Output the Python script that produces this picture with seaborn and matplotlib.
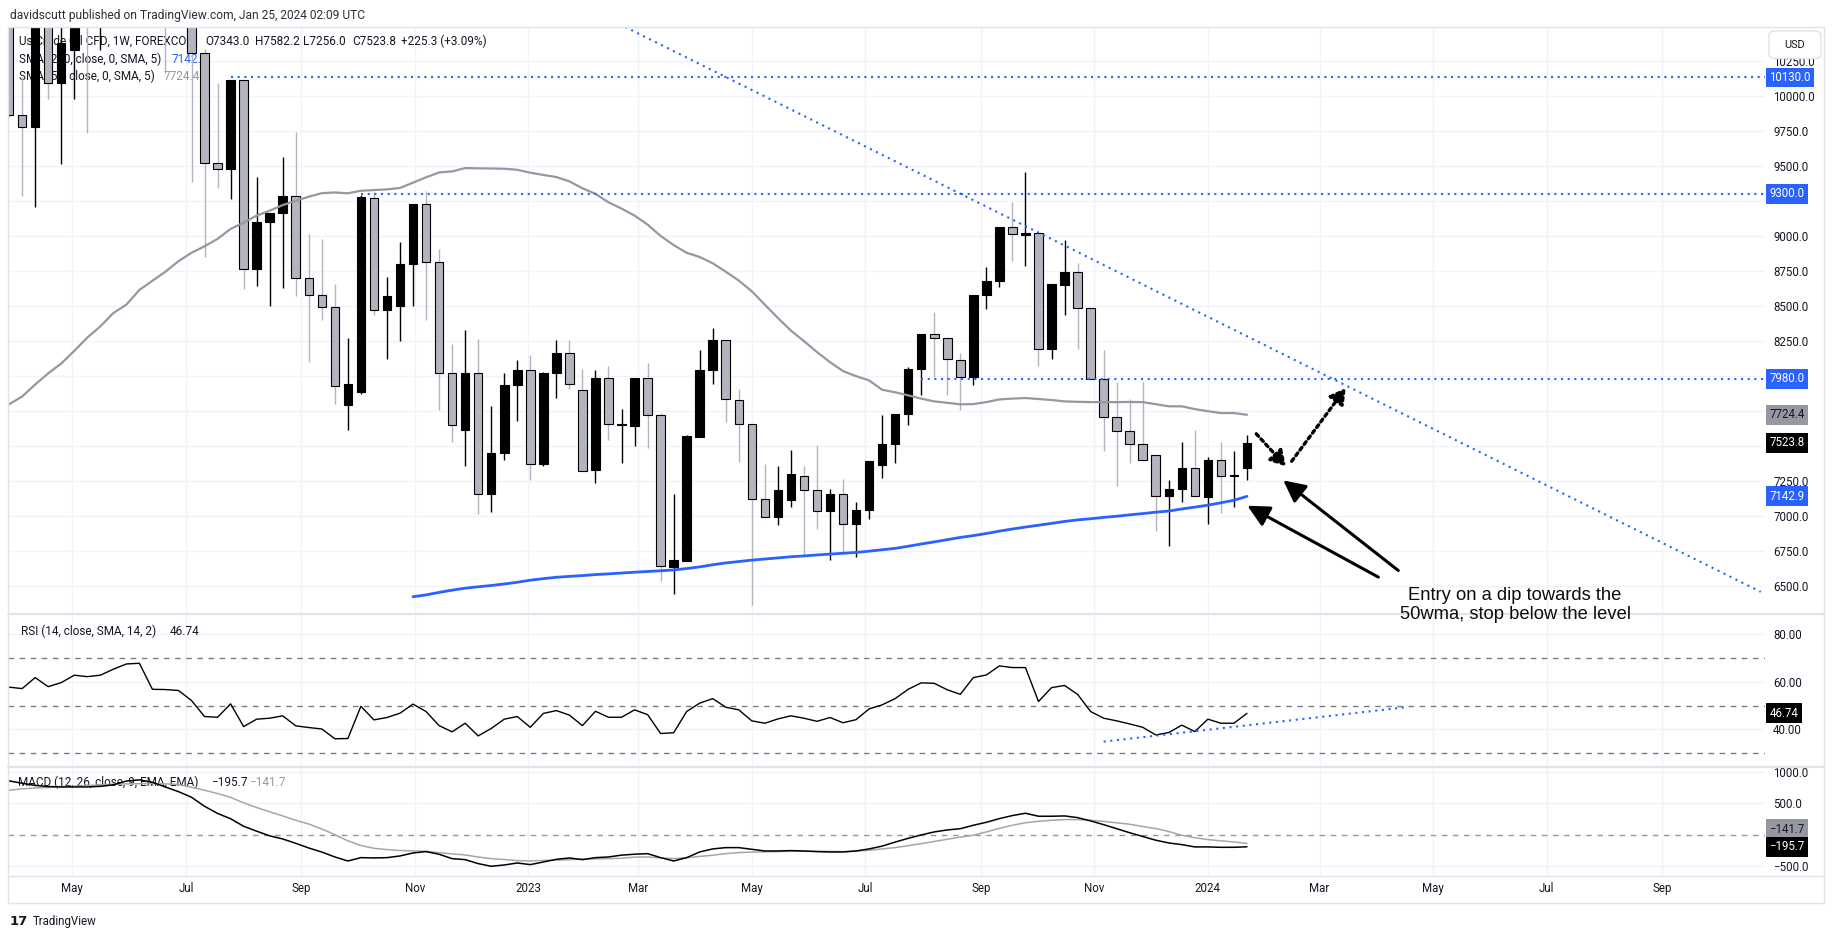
import numpy as np
import pandas as pd
import matplotlib
matplotlib.use("Agg")
import matplotlib.pyplot as plt
import matplotlib.dates as mdates
import matplotlib.ticker as mticker
import matplotlib.transforms as mtransforms
from matplotlib.lines import Line2D
from matplotlib.patches import FancyBboxPatch
import seaborn as sns

sns.set_theme(style="white")
plt.rcParams["font.family"] = ["Roboto", "DejaVu Sans"]
plt.rcParams["axes.unicode_minus"] = True

# ---------------------------------------------------------------- data
first_week = "2022-03-28"          # weekly candles (Mondays)

opens = [11200, 9862, 9774, 10650, 10089, 10327, 10800, 10600, 10900, 11300,
         11600, 11800, 10800, 10600, 10700, 10303, 9519, 9477, 10111, 8765,
         9102, 9164, 9287, 8703, 8580, 8492, 7797, 7887, 9271, 8473,
         8499, 8801, 9228, 8812, 8024, 7614, 8024, 7163, 7455, 7934,
         8046, 7372, 8022, 8167, 7903, 7334, 7989, 7650, 7645, 7989,
         7720, 6641, 6681, 7566, 8046, 8259, 7832, 7656, 7127, 6997,
         7115, 7286, 7191, 7039, 7163, 6944, 7044, 7369, 7519, 7728,
         8053, 8302, 8274, 8117, 7993, 8582, 8682, 9066, 9010, 9019,
         8195, 8651, 8741, 8487, 7982, 7709, 7609, 7519, 7440, 7144,
         7198, 7348, 7139, 7405, 7285, 7343.0]
highs = [11400, 10130, 10750, 10700, 10560, 11000, 11000, 11100, 11400, 11800,
         12000, 12000, 11000, 11100, 10900, 10330, 10094, 10111, 10111, 9422,
         9164, 9565, 9743, 9014, 8979, 8658, 8274, 9290, 9311, 8706,
         8955, 9228, 9323, 8907, 8231, 8331, 8267, 7785, 8022, 8112,
         8148, 8030, 8259, 8259, 8053, 8046, 8072, 7768, 7989, 8096,
         7740, 7163, 7578, 8183, 8345, 8259, 7910, 7656, 7376, 7357,
         7471, 7357, 7507, 7198, 7270, 7103, 7393, 7725, 7728, 8065,
         8302, 8456, 8274, 8167, 8582, 8777, 9066, 9240, 9458, 9019,
         8658, 8974, 8805, 8487, 8188, 7958, 7839, 7958, 7440, 7262,
         7531, 7618, 7424, 7531, 7464, 7582.2]
lows = [9850, 9287, 9204, 9980, 9512, 9980, 9731, 10324, 10600, 11000,
        11300, 10600, 10165, 10520, 9382, 8848, 9339, 9263, 8623, 8642,
        8499, 8627, 8575, 8100, 8397, 7803, 7614, 7870, 8433, 8122,
        8250, 8499, 8404, 7756, 7531, 7360, 7020, 7032, 7405, 7680,
        7258, 7360, 7846, 7910, 7324, 7239, 7542, 7383, 7502, 7488,
        6541, 6443, 6681, 7566, 7946, 7673, 7388, 6367, 6997, 6937,
        7068, 6716, 6913, 6688, 6735, 6712, 6978, 7277, 7381, 7649,
        7863, 7993, 7863, 7761, 7934, 8480, 8634, 8824, 8789, 8072,
        8119, 8437, 8195, 7982, 7467, 7217, 7383, 7400, 6897, 6792,
        7103, 7139, 6944, 7027, 7068, 7256.0]
closes = [9866, 9774, 10650, 10089, 10379, 10800, 10600, 10900, 11300, 11600,
          11800, 10800, 10600, 10700, 10308, 9519, 9477, 10111, 8765, 9102,
          9164, 9287, 8703, 8580, 8495, 7927, 7946, 9275, 8473, 8575,
          8801, 9228, 8812, 8024, 7649, 8024, 7163, 7455, 7934, 8046,
          7372, 8022, 8167, 7946, 7324, 7989, 7656, 7660, 7989, 7720,
          6645, 6688, 7571, 8046, 8259, 7834, 7656, 7127, 6997, 7186,
          7300, 7191, 7039, 7163, 6949, 7049, 7393, 7519, 7728, 8053,
          8302, 8274, 8119, 7993, 8582, 8682, 9066, 9014, 9019, 8195,
          8658, 8741, 8487, 7982, 7709, 7607, 7519, 7400, 7144, 7198,
          7348, 7144, 7405, 7286, 7298.5, 7523.8]

sma50 = [7799, 7855, 7940, 8020, 8090, 8180, 8275, 8355, 8450, 8510,
         8615, 8680, 8745, 8820, 8880, 8926, 8979, 9050, 9095, 9145,
         9180, 9220, 9250, 9280, 9305, 9310, 9304, 9322, 9327, 9332,
         9342, 9380, 9418, 9453, 9460, 9484, 9482, 9481, 9479, 9472,
         9451, 9435, 9420, 9389, 9340, 9300, 9240, 9195, 9145, 9081,
         9000, 8935, 8880, 8850, 8805, 8745, 8682, 8605, 8510, 8415,
         8325, 8250, 8172, 8100, 8036, 8000, 7970, 7903, 7885, 7863,
         7840, 7820, 7810, 7799, 7801, 7815, 7834, 7840, 7844, 7837,
         7830, 7820, 7817, 7815, 7815, 7815, 7816, 7815, 7800, 7785,
         7785, 7765, 7750, 7737, 7737, 7724.4]

sma200 = [6427, 6440, 6458, 6474, 6488, 6498, 6507, 6518, 6530,
          6545, 6556, 6566, 6572, 6578, 6585, 6590, 6596, 6602, 6607,
          6612, 6618, 6628, 6640, 6655, 6668, 6678, 6688, 6696, 6704,
          6712, 6718, 6725, 6731, 6737, 6743, 6752, 6762, 6772, 6787,
          6803, 6818, 6834, 6850, 6863, 6878, 6895, 6910, 6924, 6937,
          6950, 6964, 6975, 6983, 6993, 7001, 7011, 7020, 7030, 7038,
          7053, 7066, 7080, 7097, 7115, 7142.9]   # from 2022-10-31

rsi = [57.7, 57.1, 61.7, 57.9, 59.6, 62.7, 62.1, 62.7, 65.2, 67.4,
       67.7, 56.8, 56.7, 56.3, 52.1, 45.4, 45.1, 50.7, 41.2, 44.3,
       44.7, 45.7, 41.5, 40.8, 40.2, 36.1, 36.2, 49.7, 44.0, 45.0,
       46.8, 50.6, 47.5, 41.6, 39.0, 42.6, 37.3, 40.4, 44.3, 45.4,
       40.9, 46.7, 47.9, 46.0, 41.6, 47.6, 45.1, 45.1, 48.2, 46.2,
       38.3, 38.6, 47.5, 51.0, 52.9, 49.3, 48.2, 43.6, 42.6, 44.4,
       45.7, 44.7, 43.4, 45.0, 42.8, 44.1, 48.6, 50.3, 52.9, 56.8,
       59.5, 59.3, 56.6, 54.7, 61.7, 62.8, 66.6, 65.9, 65.9, 51.7,
       57.5, 58.4, 54.7, 47.5, 44.7, 43.6, 42.3, 40.9, 37.7, 38.7,
       41.8, 39.1, 44.3, 42.6, 42.6, 46.74]

macd = [863, 825, 790, 772, 766, 766, 766, 775, 800, 860,
        880, 840, 765, 690, 600, 455, 340, 255, 134, 55,
        -20, -70, -140, -215, -280, -359, -424, -370, -375, -370,
        -343, -295, -273, -316, -386, -402, -466, -509, -488, -456,
        -482, -440, -397, -375, -402, -370, -359, -330, -315, -306,
        -370, -424, -370, -279, -230, -209, -209, -236, -263, -263,
        -257, -263, -273, -279, -279, -263, -230, -185, -120, -60,
        -5, 43, 75, 95, 150, 198, 257, 306, 343, 295,
        295, 300, 273, 220, 160, 95, 30, -30, -90, -134,
        -161, -198, -198, -204, -204, -195.7]
signal = [713, 735, 750, 756, 770, 777, 788, 798, 809, 815,
          818, 820, 815, 805, 760, 713, 660, 598, 510, 435,
          366, 300, 230, 170, 90, 0, -100, -175, -220, -241,
          -255, -263, -268, -290, -310, -327, -360, -386, -400, -418,
          -423, -415, -410, -403, -395, -390, -386, -380, -362, -359,
          -375, -385, -372, -350, -332, -305, -289, -282, -277, -272,
          -268, -268, -268, -270, -273, -265, -252, -230, -209, -178,
          -145, -110, -75, -40, -11, 43, 100, 150, 190, 214,
          230, 241, 241, 230, 212, 190, 166, 130, 97, 50,
          -11, -50, -80, -100, -118, -141.7]

levels = [10130.0, 9300.0, 7980.0]
level_starts = ["2022-07-25", "2022-10-03", "2023-07-31"]

trend_dates = ["2023-02-22", "2024-10-24"]
trend_prices = [10490, 6462]

rsi_trend_dates = ["2023-11-06", "2024-04-15 08:00"]
rsi_trend_values = [34.9, 49.2]

dip_dates = ["2024-01-27", "2024-02-11 22:00"]
dip_prices = [7589, 7357]
rally_dates = ["2024-02-15", "2024-03-15"]
rally_prices = [7393, 7914]

note_tail_dates = ["2024-04-01 14:00", "2024-04-12 07:00"]
note_tail_prices = [6567, 6614]
note_head_dates = ["2024-01-22 05:00", "2024-02-10 12:00"]
note_head_prices = [7076, 7257]
note_text = "Entry on a dip towards the\n50wma, stop below the level"
note_date = "2024-06-14"
note_price = 6369

header = "davidscutt published on TradingView.com, Jan 25, 2024 02:09 UTC"
symbol = "Us Crude Oil CFD, 1W, FOREXCOM"
ohlc_text = ["O7343.0", "H7582.2", "L7256.0", "C7523.8", "+225.3 (+3.09%)"]

# ---------------------------------------------------------------- style
UP = "#000000"
DOWN = "#b2b5be"
BLUE = "#2962ff"
SMA50_C = "#9598a1"
GRID = "#f0f3fa"
FRAME = "#e0e3eb"
TXT = "#131722"

W, H = 1835, 939
fig = plt.figure(figsize=(W / 100, H / 100), dpi=100)
fig.patch.set_facecolor("white")
renderer = fig.canvas.get_renderer()


def fit_size(s, target_px, base=8.0, **kw):
    """font size at which string s is target_px wide"""
    t = fig.text(0, 0, s, fontsize=base, **kw)
    w = t.get_window_extent(renderer=renderer).width
    t.remove()
    return base * target_px / w


FS = fit_size("10000.0", 42)                       # price-scale / time-scale labels
FS_LEG = fit_size("SMA (200, close, 0, SMA, 5)", 143)
FS_HDR = fit_size(header, 356)
NOTE_FAMILY = ["Liberation Sans", "DejaVu Sans"]
FS_NOTE = fit_size("Entry on a dip towards the", 215, family=NOTE_FAMILY)


def px_axes(x0, y0, x1, y1, **kw):
    return fig.add_axes([x0 / W, 1 - y1 / H, (x1 - x0) / W, (y1 - y0) / H], **kw)


def d2n(s):
    return mdates.date2num(pd.Timestamp(s).to_pydatetime())


def fx(x):
    return x / W


def fy(y):
    return 1 - y / H


ax = px_axes(8, 27, 1765, 613)
ax_rsi = px_axes(8, 615, 1765, 766, sharex=ax)
ax_macd = px_axes(8, 768, 1765, 876, sharex=ax)
for a in (ax, ax_rsi, ax_macd):
    a.set_facecolor("none")
    for s in a.spines.values():
        s.set_visible(False)
    a.set_axisbelow(True)

weeks = pd.date_range(first_week, periods=len(closes), freq="7D")
x = mdates.date2num(weeks.to_pydatetime())
o = np.array(opens, float)
hi = np.array(highs, float)
lo = np.array(lows, float)
c = np.array(closes, float)
up = c >= o

# ---------------------------------------------------------------- price pane
ax.vlines(x, lo, hi, colors=np.where(up, UP, DOWN), linewidth=1.0, zorder=3)
ax.bar(x, np.maximum(np.abs(c - o), 10), bottom=np.minimum(o, c), width=4.6,
       color=np.where(up, UP, DOWN), edgecolor="#000000", linewidth=0.8, zorder=4)

sns.lineplot(x=x, y=sma50, ax=ax, color=SMA50_C, linewidth=1.6,
             estimator=None, sort=False, legend=False, zorder=6)
x200 = x[len(x) - len(sma200):]
sns.lineplot(x=x200, y=sma200, ax=ax, color=BLUE, linewidth=2.0,
             estimator=None, sort=False, legend=False, zorder=6)

xmin, xmax = d2n("2022-03-27 10:00"), d2n("2024-10-26 07:00")
dots = (0, (1, 2.2))
for lvl, st in zip(levels, level_starts):
    ax.plot([d2n(st), xmax], [lvl, lvl], color=BLUE, lw=1.5, ls=dots,
            dash_capstyle="butt", zorder=7)
ax.plot([d2n(d) for d in trend_dates], trend_prices, color=BLUE, lw=1.5,
        ls=dots, dash_capstyle="butt", zorder=7)

# dotted path arrows
for dd, pp in ((dip_dates, dip_prices), (rally_dates, rally_prices)):
    ax.annotate("", xy=(d2n(dd[1]), pp[1]), xytext=(d2n(dd[0]), pp[0]),
                arrowprops=dict(arrowstyle="-|>,head_length=0.6,head_width=0.35",
                                color="black", lw=2.4, linestyle=(0, (1, 1.1)),
                                shrinkA=0, shrinkB=0, mutation_scale=15),
                annotation_clip=False, zorder=9)
# solid annotation arrows
for td, tp, hd, hp in zip(note_tail_dates, note_tail_prices, note_head_dates, note_head_prices):
    ax.annotate("", xy=(d2n(hd), hp), xytext=(d2n(td), tp),
                arrowprops=dict(arrowstyle="-|>,head_length=0.6,head_width=0.3",
                                color="black", lw=2.2, shrinkA=0, shrinkB=0,
                                mutation_scale=22),
                annotation_clip=False, zorder=9)

ax.set_ylim(6311, 10490)
price_ticks = np.arange(6500, 10251, 250)
ax.set_yticks(price_ticks)

# ---------------------------------------------------------------- RSI pane
sns.lineplot(x=x, y=rsi, ax=ax_rsi, color="#000000", linewidth=1.0,
             estimator=None, sort=False, legend=False, zorder=5)
for lvl in (70, 50, 30):
    ax_rsi.axhline(lvl, color="#787b86", lw=1.0, ls=(0, (4, 4)), zorder=2)
ax_rsi.plot([d2n(d) for d in rsi_trend_dates], rsi_trend_values, color=BLUE,
            lw=1.5, ls=dots, dash_capstyle="butt", zorder=6)
ax_rsi.set_ylim(24.7, 87.9)
ax_rsi.set_yticks([40, 60, 80])
ax_rsi.yaxis.set_major_formatter(mticker.FuncFormatter(lambda v, p: f"{v:.2f}"))

# ---------------------------------------------------------------- MACD pane
sns.lineplot(x=x, y=signal, ax=ax_macd, color="#a3a6af", linewidth=1.1,
             estimator=None, sort=False, legend=False, zorder=4)
sns.lineplot(x=x, y=macd, ax=ax_macd, color="#000000", linewidth=1.1,
             estimator=None, sort=False, legend=False, zorder=5)
ax_macd.axhline(0, color="#9598a1", lw=1.0, ls=(0, (4, 4)), zorder=2)
ax_macd.set_ylim(-665, 1070)
ax_macd.set_yticks([-500, 500, 1000])
ax_macd.yaxis.set_major_formatter(
    mticker.FuncFormatter(lambda v, p: f"{v:.1f}".replace("-", "\u2212")))

# price-scale labels: values tagged with a coloured box hide the tick label they cover
box_values = levels + [sma50[-1], closes[-1], sma200[-1]]


def price_fmt(v, p):
    if any(abs(v - b) < 80 for b in box_values):
        return ""
    return f"{v:.1f}"


ax.yaxis.set_major_formatter(mticker.FuncFormatter(price_fmt))

# ---------------------------------------------------------------- axes cosmetics
ax.set_xlim(xmin, xmax)
ax_macd.xaxis.set_major_locator(mdates.MonthLocator(bymonth=[1, 3, 5, 7, 9, 11]))


def month_fmt(v, p):
    d = mdates.num2date(v)
    return d.strftime("%Y") if d.month == 1 else d.strftime("%b")


ax_macd.xaxis.set_major_formatter(mticker.FuncFormatter(month_fmt))
for a in (ax, ax_rsi, ax_macd):
    a.set_xlabel("")
    a.set_ylabel("")
    a.grid(True, color=GRID, lw=1.0)
    a.yaxis.tick_right()
    a.tick_params(axis="y", length=0, pad=5.8, labelsize=FS, labelcolor=TXT)
    a.tick_params(axis="x", length=0, pad=4.5, labelsize=FS, labelcolor=TXT)
ax.tick_params(axis="x", labelbottom=False)
ax_rsi.tick_params(axis="x", labelbottom=False)


def axis_box(a, value, text, fc, tc, dy_px=0.0):
    tr = mtransforms.blended_transform_factory(a.transAxes, a.transData) + \
        mtransforms.ScaledTranslation(0, dy_px / 100.0, fig.dpi_scale_trans)
    a.text(1 + 4.5 / 1757, value, text, transform=tr, ha="left", va="center",
           fontsize=FS, color=tc, clip_on=False, zorder=30,
           bbox=dict(boxstyle="square,pad=0.3", fc=fc, ec="none"))


for lvl in levels:
    axis_box(ax, lvl, f"{lvl:.1f}", BLUE, "white")
axis_box(ax, sma50[-1], f"{sma50[-1]:.1f}", SMA50_C, TXT)
axis_box(ax, closes[-1], f"{closes[-1]:.1f}", "#000000", "white")
axis_box(ax, sma200[-1], f"{sma200[-1]:.1f}", BLUE, "white")
axis_box(ax_rsi, rsi[-1], f"{rsi[-1]:.2f}", "#000000", "white")
axis_box(ax_macd, signal[-1], f"{signal[-1]:.1f}".replace("-", "\u2212"), SMA50_C, TXT, dy_px=14)
axis_box(ax_macd, macd[-1], f"{macd[-1]:.1f}".replace("-", "\u2212"), "#000000", "white")

# ---------------------------------------------------------------- legends / header
def ftext(a, xp, yp, s, color=TXT, size=None, **kw):
    a.text(fx(xp), fy(yp), s, transform=fig.transFigure, ha="left", va="center",
           fontsize=FS_LEG if size is None else size, color=color, clip_on=False,
           zorder=1, **kw)


fig.text(fx(10), fy(15), header, ha="left", va="center", fontsize=FS_HDR, color="#2a2e39")
ftext(ax, 18.6, 41.7, symbol)
for xp, s in zip([205.6, 254.5, 303.4, 352.3, 401.3], ohlc_text):
    ftext(ax, xp, 41.7, s)
ftext(ax, 18.6, 59.3, "SMA (200, close, 0, SMA, 5)")
ftext(ax, 172, 59.3, f"{sma200[-1]:.1f}", color=BLUE)
ftext(ax, 18.6, 76, "SMA (50, close, 0, SMA, 5)")
ftext(ax, 164, 76, f"{sma50[-1]:.1f}", color=SMA50_C)
ftext(ax_rsi, 20.5, 631.7, "RSI (14, close, SMA, 14, 2)")
ftext(ax_rsi, 170, 631.7, f"{rsi[-1]:.2f}")
ftext(ax_macd, 18.4, 782.7, "MACD (12, 26, close, 9, EMA, EMA)")
ftext(ax_macd, 211, 782.7, f"{macd[-1]:.1f}".replace("-", "\u2212"))
ftext(ax_macd, 249, 782.7, f"{signal[-1]:.1f}".replace("-", "\u2212"), color=SMA50_C)

# frame and separators
def hline_px(y, x0=8, x1=1824, lw=1.0):
    fig.add_artist(Line2D([fx(x0), fx(x1)], [fy(y), fy(y)], color=FRAME, lw=lw,
                          transform=fig.transFigure, zorder=2))


def vline_px(xp, y0=27, y1=903, lw=1.0):
    fig.add_artist(Line2D([fx(xp), fx(xp)], [fy(y0), fy(y1)], color=FRAME, lw=lw,
                          transform=fig.transFigure, zorder=2))


hline_px(27)
hline_px(903)
hline_px(614, lw=1.6)
hline_px(767, lw=1.6)
hline_px(876)
vline_px(8)
vline_px(1824)

# annotation text on top of the pane separator
fig.text(d2n(note_date), note_price, note_text, transform=ax.transData,
         ha="center", va="center", fontsize=FS_NOTE, family=NOTE_FAMILY,
         color="#0c0c0c", linespacing=1.12, zorder=10)

usd = FancyBboxPatch((fx(1769), fy(58.5)), fx(1821) - fx(1769), fy(31) - fy(58.5),
                     boxstyle="round,pad=0,rounding_size=0.004", transform=fig.transFigure,
                     fc="white", ec=FRAME, lw=1.0, zorder=5)
fig.add_artist(usd)
fig.text(fx(1795), fy(44.5), "USD", ha="center", va="center", fontsize=FS * 0.95,
         color=TXT, zorder=6)

fig.text(fx(10), fy(921.5), "17", ha="left", va="center", fontsize=9.5,
         fontweight="heavy", color=TXT, family=["DejaVu Sans"])
fig.text(fx(33), fy(921.5), "TradingView", ha="left", va="center", fontsize=FS, color=TXT)

fig.savefig("out.png", dpi=100, facecolor="white")
